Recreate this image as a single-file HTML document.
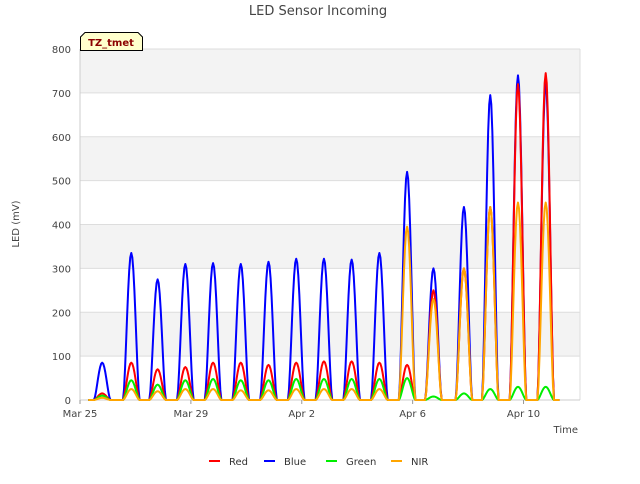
<!DOCTYPE html>
<html><head><meta charset="utf-8"><style>
body{margin:0;background:#fff;font-family:"DejaVu Sans",sans-serif}
</style></head><body>
<svg width="640" height="480" xmlns="http://www.w3.org/2000/svg" font-family="DejaVu Sans, sans-serif">
<text x="318" y="15" text-anchor="middle" font-size="13" fill="#444">LED Sensor Incoming</text>
<g id="bands"></g>
<g id="grid"></g>
<g id="yticks"></g>
<g id="xticks"></g>
<g id="series"></g>
<text x="19" y="224" transform="rotate(-90 19 224)" text-anchor="middle" font-size="10" fill="#444">LED (mV)</text>
<text x="578" y="433" text-anchor="end" font-size="10" fill="#444">Time</text>
<g>
<path d="M80.5,50.5 L80.5,37 L85,32.5 L138,32.5 L142.5,37 L142.5,50.5 Z" fill="#ffffcc" stroke="#000"/>
<text x="111" y="46" text-anchor="middle" font-size="10" font-weight="bold" fill="#8b0000">TZ_tmet</text>
</g>
<g id="legend"></g>
</svg>
<script>
const dayCenters=[0.8,1.85,2.8,3.8,4.8,5.8,6.8,7.8,8.8,9.8,10.8,11.8,12.75,13.85,14.8,15.8,16.8];
const blueVals=[85,335,275,310,312,310,315,322,322,320,335,520,300,440,695,740,720];
const redVals=[15,85,70,75,85,85,80,85,88,88,85,80,250,300,440,720,745];
const greenVals=[10,45,35,45,48,45,45,48,48,48,48,50,8,15,25,30,30];
const nirVals=[5,25,20,25,25,22,22,25,25,25,25,395,230,300,440,450,450];
const yTicks=[0,100,200,300,400,500,600,700,800];
const xTickDays=[0,4,8,12,16];
const xTickLabels=["Mar 25","Mar 29","Apr 2","Apr 6","Apr 10"];
const NS="http://www.w3.org/2000/svg";
const L=80,R=580,T=49,B=400;
const X=d=>L+d*27.72;
const Y=v=>B-(v/800)*(B-T);
function mk(tag,attrs,parent){const e=document.createElementNS(NS,tag);for(const k in attrs)e.setAttribute(k,attrs[k]);parent.appendChild(e);return e;}
const bands=document.getElementById('bands'),grid=document.getElementById('grid'),yt=document.getElementById('yticks'),xt=document.getElementById('xticks');
mk('rect',{x:L,y:T,width:R-L,height:B-T,fill:'#fff'},bands);
for(let i=0;i<yTicks.length-1;i++){if(i%2===1){const r=mk('rect',{x:L,y:Y(yTicks[i+1]),width:R-L,height:Y(yTicks[i])-Y(yTicks[i+1]),fill:'#f3f3f3'},bands);}}
yTicks.forEach(v=>{const l=mk('line',{x1:L,x2:R,y1:Y(v),y2:Y(v),stroke:'#ddd'},grid);
const t=mk('text',{x:L-9,y:Y(v)+4,'text-anchor':'end','font-size':10,fill:'#444'},yt);t.textContent=v;});
mk('line',{x1:L,x2:L,y1:T,y2:B,stroke:'#ccc'},grid);mk('line',{x1:R,x2:R,y1:T,y2:B,stroke:'#ddd'},grid);mk('line',{x1:L,x2:R,y1:B,y2:B,stroke:'#ccc'},grid);
xTickDays.forEach((d,i)=>{mk('line',{x1:X(d),x2:X(d),y1:B,y2:B+4,stroke:'#999'},xt);const t=mk('text',{x:X(d),y:B+17,'text-anchor':'middle','font-size':10,fill:'#444'},xt);t.textContent=xTickLabels[i];});
const sg=document.getElementById('series');
function draw(vals,color,name){let d=`M${X(0.3)},${Y(0)}`;
dayCenters.forEach((c,i)=>{const hw=0.3;d+=` L${X(c-hw)},${Y(0)}`;for(let k=1;k<=16;k++){const f=k/16;const s=Math.sin(Math.PI*f);d+=` L${X(c-hw+2*hw*f)},${Y(vals[i]*Math.pow(s,1.6))}`;}});
d+=` L${X(17.3)},${Y(0)}`;const p=mk('path',{d:d,fill:'none',stroke:color,'stroke-width':2,'stroke-linejoin':'round'},sg);}
draw(blueVals,'#0000ff','series-blue');draw(redVals,'#ff0000','series-red');draw(greenVals,'#00ee00','series-green');draw(nirVals,'#ffa500','series-nir');
const lg=document.getElementById('legend');
[["Red","#ff0000",209],["Blue","#0000ff",264],["Green","#00ee00",326],["NIR","#ffa500",391]].forEach(([n,c,x])=>{const g=mk('g',{},lg);
mk('line',{x1:x,x2:x+11,y1:461,y2:461,stroke:c,'stroke-width':2},g);const t=mk('text',{x:x+20,y:465,'font-size':10,fill:'#333'},g);t.textContent=n;});
</script>
</body></html>
